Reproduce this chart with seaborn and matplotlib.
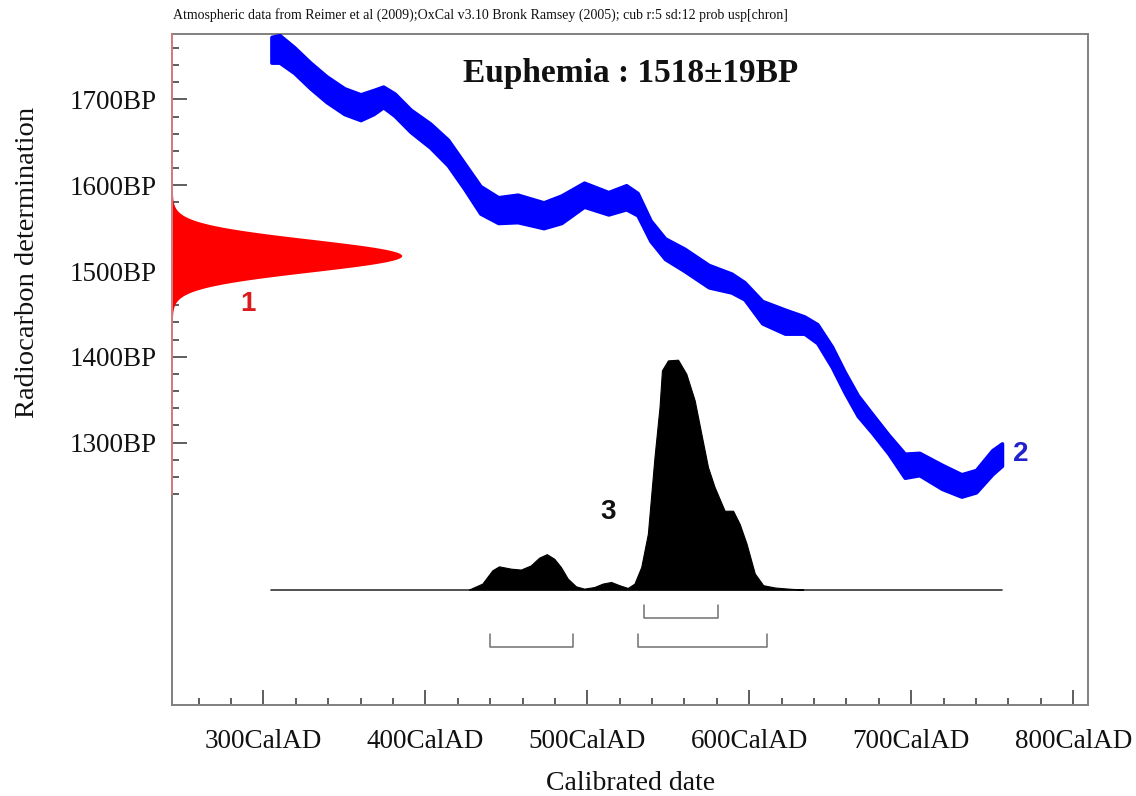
import numpy as np
import matplotlib
matplotlib.use("Agg")
import matplotlib.pyplot as plt
import seaborn as sns

# ---------------------------------------------------------------------------
# Data
# ---------------------------------------------------------------------------
# Calibration curve segment: calendar year (AD), radiocarbon age (BP), 1 sigma
cal_year = [305, 310, 319, 329, 339, 350, 360, 368, 374, 381, 391, 403, 414,
            424, 434, 445, 457, 473, 484, 498, 513, 524, 531, 539, 548, 560,
            575, 589, 597, 608, 622, 634, 642, 651, 659, 667, 676, 686, 696,
            705, 719, 731, 740, 750, 756]
cal_bp = [1758, 1759, 1746, 1728, 1712, 1698, 1691, 1697, 1703, 1694, 1675,
          1658, 1638, 1611, 1583, 1571, 1573, 1565, 1572, 1589, 1579, 1586,
          1578, 1547, 1526, 1513, 1494, 1486, 1477, 1452, 1441, 1437, 1427,
          1400, 1370, 1343, 1322, 1298, 1273, 1275, 1260, 1250, 1255, 1277,
          1286]
cal_sigma = [15, 16, 15, 15, 15, 15, 15, 14, 12, 13, 13, 14, 15, 15, 16, 15,
             16, 15, 16, 14, 13, 14, 13, 12, 12, 13, 13, 11, 10, 13, 14, 10,
             11, 12, 12, 12, 11, 11, 14, 13, 14, 13, 13, 14, 13]

# Radiocarbon determination
sample_name = "Euphemia"
c14_age = 1518
c14_err = 19

# Calibrated date: relative probability by calendar year
post_year = [426.9, 435.2, 441.4, 445.5, 452.8, 459.0, 465.1, 470.3, 475.0,
             479.6, 483.7, 487.9, 493.0, 498.1, 504.3, 509.5, 514.7, 519.8,
             525.0, 529.1, 533.3, 537.4, 541.5, 544.6, 546.1, 549.8, 556.0,
             561.1, 566.3, 570.4, 574.5, 578.6, 584.8, 590.0, 594.1, 598.3,
             603.4, 608.6, 615.8, 624.1, 633.4]
post_prob = [0.0, 0.026, 0.084, 0.101, 0.091, 0.087, 0.105, 0.139, 0.154,
             0.134, 0.098, 0.048, 0.014, 0.004, 0.011, 0.026, 0.033, 0.019,
             0.007, 0.026, 0.098, 0.243, 0.577, 0.794, 0.954, 0.997, 1.0,
             0.939, 0.823, 0.678, 0.533, 0.446, 0.343, 0.343, 0.285, 0.200,
             0.070, 0.019, 0.009, 0.004, 0.0]

# Highest probability ranges (68.2% and 95.4%)
range_68 = [(535, 581)]
range_95 = [(440, 491), (531, 611)]

x_major = [300, 400, 500, 600, 700, 800]
x_labels = [f"{v}CalAD" for v in x_major]
y_major = [1300, 1400, 1500, 1600, 1700]
y_labels = [f"{v}BP" for v in y_major]

header = ("Atmospheric data from Reimer et al (2009);OxCal v3.10 "
          "Bronk Ramsey (2005); cub r:5 sd:12 prob usp[chron]")

# ---------------------------------------------------------------------------
# Layout
# ---------------------------------------------------------------------------
XLIM = (243.8, 809.1)
YLIM = (994, 1776)
POST_BASE = 1128.6      # baseline of calibrated distribution (BP units)
POST_SCALE = 268.0      # height of distribution peak (BP units)
C14_WIDTH = 141.6       # width of the radiocarbon curve peak (years)
BR68 = (1095.5, 1110.3)  # horizontal line / tick top for 68.2% range
BR95 = (1061.7, 1076.5)  # horizontal line / tick top for 95.4% range

sns.set_style("white")
plt.rcParams["font.family"] = ["Liberation Serif", "DejaVu Serif"]

fig = plt.figure(figsize=(11.36, 7.96), dpi=100)
ax = fig.add_axes([0.1517, 0.1143, 0.9577 - 0.1517, 0.9569 - 0.1143])

# Calibration curve band
cy = np.array(cal_year, dtype=float)
cb = np.array(cal_bp, dtype=float)
cs = np.array(cal_sigma, dtype=float)
band = ax.fill_between(cy, cb - cs, cb + cs, color="#0000ff", lw=2.6,
                       edgecolor="#0000ff", zorder=3)
band.set_joinstyle("round")

# Radiocarbon determination as a normal density on the BP axis
bp_grid = np.linspace(c14_age - 5 * c14_err, c14_age + 5 * c14_err, 600)
dens = np.exp(-0.5 * ((bp_grid - c14_age) / c14_err) ** 2)
ax.fill_betweenx(bp_grid, XLIM[0], XLIM[0] + C14_WIDTH * dens,
                 color="#ff0000", lw=0, zorder=3)

# Calibrated distribution
py = np.array(post_year, dtype=float)
pp = POST_BASE + POST_SCALE * np.array(post_prob, dtype=float)
ax.fill_between(py, POST_BASE, pp, color="black", lw=0.8,
                edgecolor="black", zorder=3)
sns.lineplot(x=[cal_year[0], cal_year[-1]], y=[POST_BASE, POST_BASE],
             ax=ax, color="#333333", lw=1.2, zorder=2)

# Range brackets
for ranges, (yl, yt) in ((range_68, BR68), (range_95, BR95)):
    for a, b in ranges:
        ax.plot([a, a, b, b], [yt, yl, yl, yt], color="#707070", lw=1.1,
                zorder=2)

# Curve labels
lab_font = dict(family=["Liberation Sans", "DejaVu Sans"], weight="bold",
                fontsize=20, ha="center", va="center")
ax.text(290.2, 1462, "1", color="#dd1a1a", **lab_font)
ax.text(767.9, 1287, "2", color="#2222cc", **lab_font)
ax.text(513.1, 1219, "3", color="#111111", **lab_font)

# Title inside plot
ax.text(0.5, 0.9423, f"{sample_name} : {c14_age}\u00b1{c14_err}BP",
        transform=ax.transAxes, ha="center", va="center",
        fontsize=24, fontweight="bold", color="#111111")

# Axes limits and ticks
ax.set_xlim(*XLIM)
ax.set_ylim(*YLIM)
ax.set_xticks(x_major)
ax.set_xticklabels(x_labels)
ax.set_xticks(np.arange(260, 801, 20), minor=True)
ax.set_yticks(y_major)
ax.set_yticklabels(y_labels)
ax.set_yticks(np.arange(1240, 1761, 20), minor=True)
ax.tick_params(which="both", direction="in", color="#333333", width=1.1,
               bottom=True, left=True, top=False, right=False,
               labelsize=19.5, labelcolor="#111111")
ax.tick_params(which="major", length=10.5)
ax.tick_params(which="minor", length=5)
ax.tick_params(axis="x", which="major", pad=17)
ax.tick_params(axis="y", which="major", pad=11.5)
ax.tick_params(axis="both", which="minor", labelleft=False, labelbottom=False)

# Frame: gray spines, left spine red along the radiocarbon scale
for side in ("top", "right", "bottom"):
    ax.spines[side].set_color("#808080")
    ax.spines[side].set_linewidth(1.4)
ax.spines["left"].set_visible(False)
ytr = ax.get_yaxis_transform()
ax.plot([0, 0], [YLIM[0], 1240], transform=ytr, color="#808080", lw=1.4,
        clip_on=False, zorder=5)
ax.plot([0, 0], [1240, YLIM[1]], transform=ytr, color="#d07a7a", lw=1.4,
        clip_on=False, zorder=5)

# Axis titles
ax.set_xlabel("Calibrated date", fontsize=20, color="#111111")
ax.xaxis.label.set_va("center")
ax.xaxis.set_label_coords(0.5, -0.117)
ax.set_ylabel("Radiocarbon determination", fontsize=20.5, color="#111111")
ax.yaxis.label.set_va("center")
ax.yaxis.set_label_coords(-0.158, 0.66)

fig.text(173 / 1136, 1 - 15 / 796, header, ha="left", va="center",
         fontsize=10, color="#111111")

fig.savefig("out.png", dpi=100, facecolor="white")
